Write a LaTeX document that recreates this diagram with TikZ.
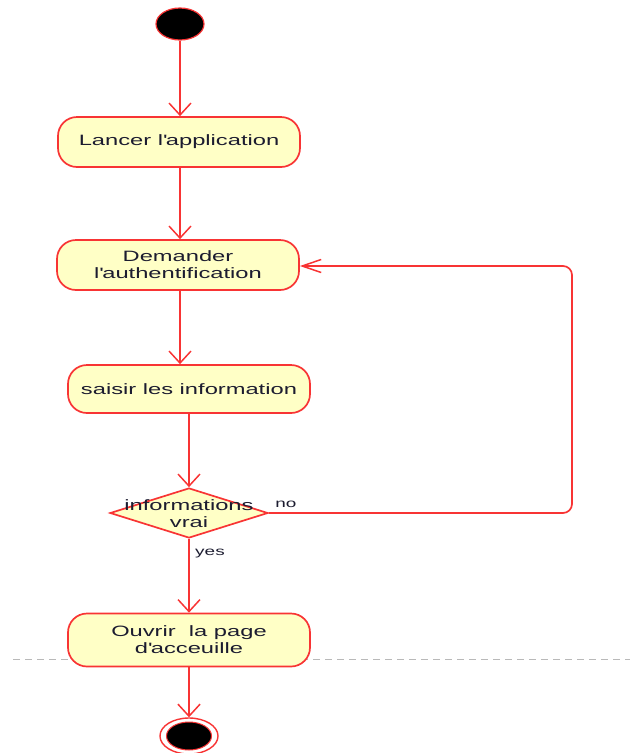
\documentclass[tikz,border=0pt]{standalone}
\usepackage{fontspec}
\setmainfont{Liberation Sans}[FakeStretch=1.58]
\usetikzlibrary{shapes.geometric,arrows.meta}
\definecolor{flow}{RGB}{248,52,52}
\definecolor{actfill}{RGB}{255,255,198}
\definecolor{ink}{RGB}{28,28,48}
\definecolor{sep}{RGB}{185,185,185}
\newcommand{\apos}{\textquotesingle}
\tikzset{
  x=1pt, y=-1pt,
  action/.style={rectangle, rounded corners=19pt, draw=flow, line width=1.7pt,
    fill=actfill, minimum width=242pt, minimum height=50pt, align=center,
    text=ink, font=\fontsize{15}{17}\selectfont, inner sep=0pt},
  decision/.style={diamond, draw=flow, line width=1.7pt, fill=actfill,
    minimum width=158pt, minimum height=50pt, inner sep=0pt},
  dtext/.style={align=center, text=ink, font=\fontsize{15}{17}\selectfont, inner sep=0pt},
  guard/.style={text=ink, font=\fontsize{12}{14}\selectfont, inner sep=0pt},
  vflow/.style={draw=flow, line width=1.7pt, -{Straight Barb[length=12pt,width=22pt,line width=1.5pt]}},
  hflow/.style={draw=flow, line width=1.7pt, rounded corners=9pt,
    -{Straight Barb[length=19pt,width=13pt,line width=1.5pt]}},
}
\begin{document}
\begin{tikzpicture}
\clip (0,0) rectangle (630,753);
\useasboundingbox (0,0) rectangle (630,753);

% swimlane separator
\draw[sep, line width=1pt, dash pattern=on 7pt off 5pt] (13,659) -- (630,659);

% initial node
\node[ellipse, draw=flow, line width=1.2pt, fill=black,
      minimum width=48pt, minimum height=32pt, inner sep=0pt] (start) at (180,24) {};

% actions
\node[action] (lancer) at (179,142) {Lancer l\apos application};
\node[action] (demander) at (178,265) {Demander\\l\apos authentification};
\node[action, minimum height=48pt] (saisir) at (189,389) {saisir les information};
\node[decision] (test) at (189,513) {};
\node[dtext] (testlbl) at (189,514) {informations\\vrai};
\node[action, minimum height=53pt] (ouvrir) at (189,640) {Ouvrir\ \ la page\\d\apos acceuille};

% final node
\node[ellipse, draw=flow, line width=1.4pt, fill=white,
      minimum width=58pt, minimum height=36pt, inner sep=0pt] (fin) at (189,736) {};
\node[ellipse, draw=flow, line width=1pt, fill=black,
      minimum width=45pt, minimum height=28pt, inner sep=0pt] (finin) at (189,736) {};

% control flow
\draw[vflow] (start.south) -- (start.south |- lancer.north);
\draw[vflow] (lancer.south -| start) -- (demander.north -| start);
\draw[vflow] (demander.south -| start) -- (saisir.north -| start);
\draw[vflow] (saisir.south) -- (test.north);
\draw[vflow] (test.south) -- (ouvrir.north -| test);
\draw[vflow] (ouvrir.south) -- (fin.north);

\coordinate (loopc) at (572,266);
\draw[hflow] (test.east) -| (loopc) -- (demander.east |- loopc);

% guards
\node[guard] (no) at (286,504) {no};
\node[guard] (yes) at (210,554) {yes};
\end{tikzpicture}
\end{document}
